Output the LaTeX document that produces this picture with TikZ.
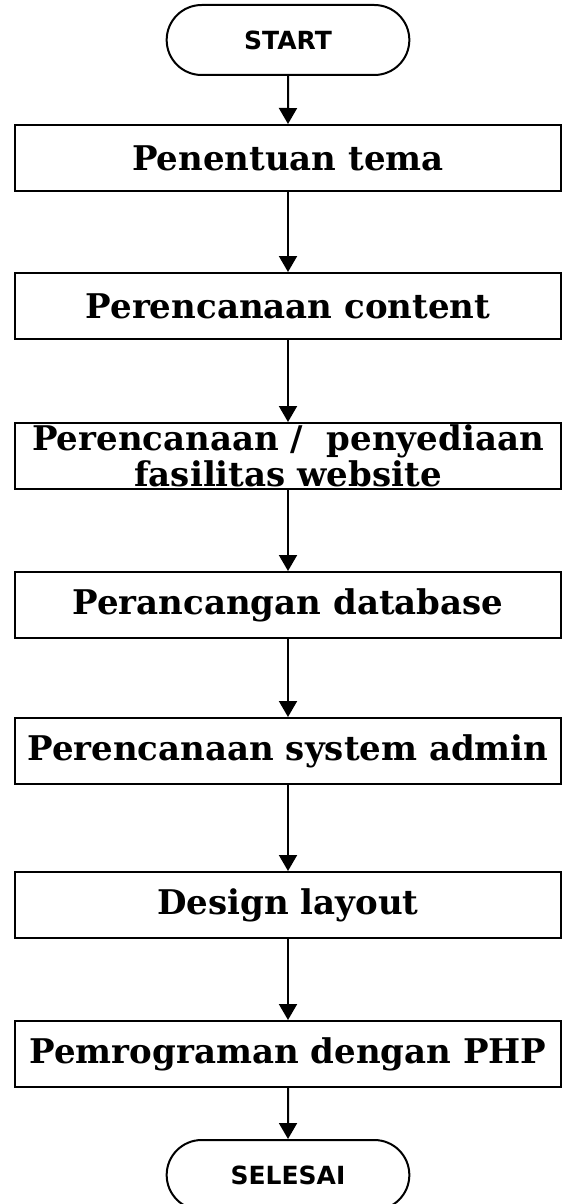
\documentclass[tikz,border=0pt]{standalone}
\usepackage{fontspec}
\setmainfont{DejaVu Serif}
\newfontfamily\termfont{DejaVu Sans}
\usetikzlibrary{arrows.meta,shapes.misc}

\tikzset{
  langkah/.style={draw, line width=1pt, minimum width=273pt, minimum height=33pt,
    inner sep=0pt, align=center, font=\bfseries\fontsize{17}{16}\selectfont},
  terminal/.style={draw, line width=1pt, rounded rectangle, minimum width=128pt,
    minimum height=35pt, font=\termfont\bfseries\fontsize{12.5}{14}\selectfont},
  panah/.style={-{Triangle[width=9pt,length=8pt]}, line width=1pt}
}

\begin{document}
\begin{tikzpicture}[x=0.5pt,y=-0.5pt]
  \useasboundingbox (0,0) rectangle (562,1204);

  \node[terminal] (start) at (288,40) {START};
  \node[langkah] (tema) at (288,158) {Penentuan tema};
  \node[langkah] (content) at (288,306) {Perencanaan content};
  \node[langkah] (fasilitas) at (288,456) {Perencanaan /\ \ penyediaan\\fasilitas website};
  \node[langkah] (database) at (288,605) {Perancangan database};
  \node[langkah] (admin) at (288,751) {Perencanaan system admin};
  \node[langkah] (layout) at (288,905) {Design layout};
  \node[langkah] (php) at (288,1054) {Pemrograman dengan PHP};
  \node[terminal] (selesai) at (288,1175) {SELESAI};

  \draw[panah] (start) -- (tema);
  \draw[panah] (tema) -- (content);
  \draw[panah] (content) -- (fasilitas);
  \draw[panah] (fasilitas) -- (database);
  \draw[panah] (database) -- (admin);
  \draw[panah] (admin) -- (layout);
  \draw[panah] (layout) -- (php);
  \draw[panah] (php) -- (selesai);

\end{tikzpicture}
\end{document}
